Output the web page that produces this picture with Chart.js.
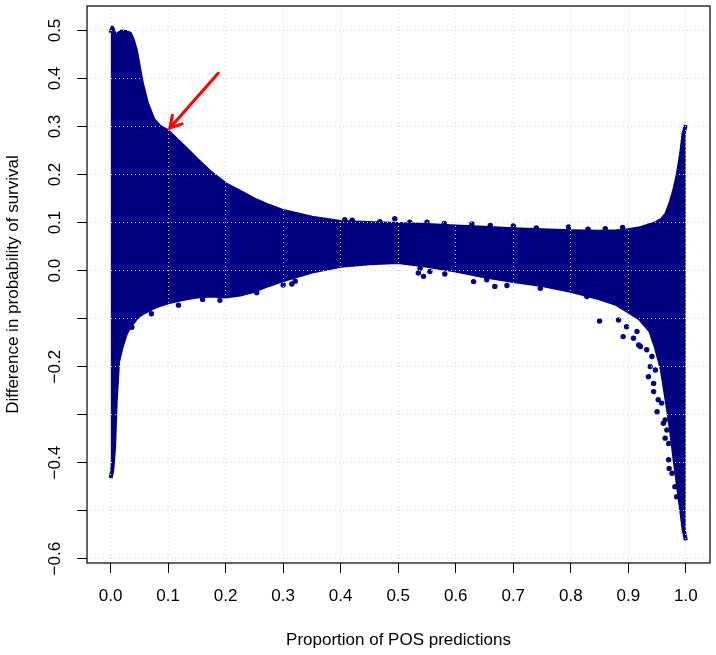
<!DOCTYPE html>
<html>
<head>
<meta charset="utf-8">
<script src="https://cdn.jsdelivr.net/npm/chart.js@4.4.1/dist/chart.umd.min.js"></script>
<style>
html, body { margin: 0; padding: 0; background: #fff; }
#wrap { position: relative; width: 716px; height: 655px; }
</style>
</head>
<body>
<div id="wrap"><canvas id="grafica"></canvas></div>
<script>
// Contorno de la nube de puntos
const xGrid = [0, 0.003, 0.006, 0.009, 0.013, 0.019, 0.027, 0.034, 0.039, 0.044,
    0.048, 0.054, 0.063, 0.074, 0.085, 0.1, 0.115, 0.13, 0.15, 0.175,
    0.2, 0.225, 0.25, 0.275, 0.3, 0.35, 0.4, 0.45, 0.5, 0.55,
    0.6, 0.65, 0.7, 0.75, 0.8, 0.85, 0.88, 0.9, 0.92, 0.938,
    0.948, 0.958, 0.966, 0.974, 0.98, 0.986, 0.992, 0.996, 1.0];
const upperEdge = [0.495, 0.506, 0.496, 0.481, 0.493, 0.498, 0.497, 0.493, 0.479, 0.458,
    0.432, 0.392, 0.349, 0.315, 0.300, 0.290, 0.272, 0.255, 0.231, 0.203,
    0.180, 0.164, 0.148, 0.135, 0.124, 0.110, 0.101, 0.099, 0.097, 0.095,
    0.092, 0.089, 0.086, 0.084, 0.082, 0.081, 0.082, 0.084, 0.088, 0.095,
    0.099, 0.106, 0.117, 0.143, 0.168, 0.2, 0.245, 0.285, 0.303];
const lowerEdge = [-0.432, -0.415, -0.370, -0.27, -0.19, -0.16, -0.13, -0.115, -0.108, -0.1,
    -0.095, -0.09, -0.084, -0.077, -0.072, -0.066, -0.062, -0.058, -0.054, -0.052,
    -0.054, -0.05, -0.042, -0.03, -0.02, -0.002, 0.01, 0.015, 0.018, 0.01,
    0.0, -0.012, -0.022, -0.03, -0.042, -0.058, -0.07, -0.085, -0.1, -0.125,
    -0.16, -0.205, -0.265, -0.33, -0.39, -0.445, -0.5, -0.538, -0.562];

// Puntos sueltos fuera del contorno
const outlierX = [0.037, 0.071, 0.118, 0.16, 0.19, 0.254, 0.3, 0.315, 0.321,
    0.535, 0.538, 0.544, 0.555, 0.581, 0.631, 0.654, 0.668, 0.689, 0.747, 0.828,
    0.85, 0.883, 0.891, 0.897, 0.909, 0.915, 0.918, 0.921, 0.932, 0.935,
    0.938, 0.941, 0.944, 0.944, 0.947, 0.95, 0.952, 0.958, 0.961, 0.964,
    0.964, 0.967, 0.97, 0.97, 0.971, 0.976, 0.981, 0.984,
    0.407, 0.42, 0.468, 0.494, 0.52, 0.55, 0.58, 0.628, 0.66, 0.7,
    0.74, 0.796, 0.83, 0.86, 0.89];
const outlierY = [-0.118, -0.09, -0.072, -0.06, -0.062, -0.046, -0.03, -0.028, -0.022,
    -0.005, 0.005, -0.012, -0.002, -0.007, -0.023, -0.019, -0.033, -0.031, -0.037, -0.054,
    -0.105, -0.103, -0.1375, -0.117, -0.141, -0.127, -0.155, -0.158, -0.165, -0.221,
    -0.2, -0.179, -0.235, -0.252, -0.207, -0.294, -0.269, -0.276, -0.318, -0.311,
    -0.349, -0.332, -0.36, -0.394, -0.412, -0.422, -0.45, -0.471,
    0.106, 0.105, 0.102, 0.108, 0.101, 0.101, 0.098, 0.097, 0.094, 0.093,
    0.089, 0.091, 0.086, 0.087, 0.09];

// Marcas de los ejes
const xTicks = [0, 0.1, 0.2, 0.3, 0.4, 0.5, 0.6, 0.7, 0.8, 0.9, 1.0];
const yTicks = [-0.6, -0.5, -0.4, -0.3, -0.2, -0.1, 0, 0.1, 0.2, 0.3, 0.4, 0.5];
const yTickLabels = [0.5, 0.4, 0.3, 0.2, 0.1, 0.0, -0.2, -0.4, -0.6];

// Flecha roja (coordenadas de datos)
const arrowFrom = [0.187, 0.411];
const arrowTo = [0.103, 0.297];

const colorPuntos = '#000080';
const fuente = '"Liberation Sans", Arial, Helvetica, sans-serif';

const formatear = v => (v < 0 ? '\u2212' : '') + Math.abs(v).toFixed(1);

const marcoR = {
    id: 'marcoR',
    afterDraw(chart) {
        const ctx = chart.ctx;
        const area = chart.chartArea;
        const sx = chart.scales.x;
        const sy = chart.scales.y;
        ctx.save();

        // Caja del gráfico
        ctx.strokeStyle = '#111';
        ctx.lineWidth = 1.3;
        ctx.strokeRect(area.left, area.top, area.right - area.left, area.bottom - area.top);

        // Etiquetas del eje Y (rotadas, estilo R)
        ctx.fillStyle = '#000';
        ctx.font = '17px ' + fuente;
        ctx.textAlign = 'center';
        ctx.textBaseline = 'middle';
        yTickLabels.forEach(v => {
            ctx.save();
            ctx.translate(55, sy.getPixelForValue(v));
            ctx.rotate(-Math.PI / 2);
            ctx.fillText(formatear(v), 0, 0);
            ctx.restore();
        });

        // Títulos de los ejes
        ctx.fillText('Proportion of POS predictions', (area.left + area.right) / 2, 640);
        ctx.save();
        ctx.translate(13, (area.top + area.bottom) / 2);
        ctx.rotate(-Math.PI / 2);
        ctx.fillText('Difference in probability of survival', 0, 0);
        ctx.restore();

        // Flecha
        const x0 = sx.getPixelForValue(arrowFrom[0]);
        const y0 = sy.getPixelForValue(arrowFrom[1]);
        const x1 = sx.getPixelForValue(arrowTo[0]);
        const y1 = sy.getPixelForValue(arrowTo[1]);
        const ang = Math.atan2(y1 - y0, x1 - x0);
        ctx.strokeStyle = '#ff0000';
        ctx.lineWidth = 3;
        ctx.lineCap = 'round';
        ctx.beginPath();
        ctx.moveTo(x0, y0);
        ctx.lineTo(x1, y1);
        ctx.moveTo(x1 - 13 * Math.cos(ang - Math.PI / 6), y1 - 13 * Math.sin(ang - Math.PI / 6));
        ctx.lineTo(x1, y1);
        ctx.lineTo(x1 - 13 * Math.cos(ang + Math.PI / 6), y1 - 13 * Math.sin(ang + Math.PI / 6));
        ctx.stroke();
        ctx.restore();
    }
};

const rejilla = {
    color: '#d3d3d3',
    lineWidth: 1,
    tickLength: 10,
    tickColor: '#000',
    tickWidth: 1,
    z: 1
};

const ctx = document.getElementById('grafica').getContext('2d');
new Chart(ctx, {
    type: 'line',
    data: {
        datasets: [
            {
                label: 'superior',
                data: xGrid.map((x, i) => ({ x: x, y: upperEdge[i] })),
                borderColor: colorPuntos,
                backgroundColor: colorPuntos,
                borderWidth: 4,
                borderJoinStyle: 'round',
                pointRadius: 0,
                tension: 0,
                fill: '+1'
            },
            {
                label: 'inferior',
                data: xGrid.map((x, i) => ({ x: x, y: lowerEdge[i] })),
                borderColor: colorPuntos,
                borderWidth: 4,
                borderJoinStyle: 'round',
                pointRadius: 0,
                tension: 0,
                fill: false
            },
            {
                label: 'sueltos',
                data: outlierX.map((x, i) => ({ x: x, y: outlierY[i] })),
                showLine: false,
                pointRadius: 2.7,
                pointBorderWidth: 0,
                pointBackgroundColor: colorPuntos,
                borderColor: colorPuntos
            }
        ]
    },
    options: {
        responsive: true,
        maintainAspectRatio: false,
        animation: false,
        events: [],
        layout: { padding: { left: 0, top: 6, right: 6, bottom: 0 } },
        plugins: {
            legend: { display: false },
            tooltip: { enabled: false },
            title: { display: false }
        },
        scales: {
            x: {
                type: 'linear',
                min: -0.041,
                max: 1.042,
                afterBuildTicks: s => { s.ticks = xTicks.map(v => ({ value: v })); },
                afterFit: s => { s.height = 92; },
                ticks: {
                    callback: v => formatear(v),
                    color: '#000',
                    font: { family: fuente, size: 17 },
                    padding: 13,
                    maxRotation: 0,
                    autoSkip: false
                },
                grid: rejilla,
                border: { display: false, dash: [1, 3] }
            },
            y: {
                type: 'linear',
                min: -0.609,
                max: 0.551,
                afterBuildTicks: s => { s.ticks = yTicks.map(v => ({ value: v })); },
                afterFit: s => { s.width = 87; },
                ticks: { display: false },
                grid: rejilla,
                border: { display: false, dash: [1, 3] }
            }
        }
    },
    plugins: [marcoR]
});
</script>
</body>
</html>
